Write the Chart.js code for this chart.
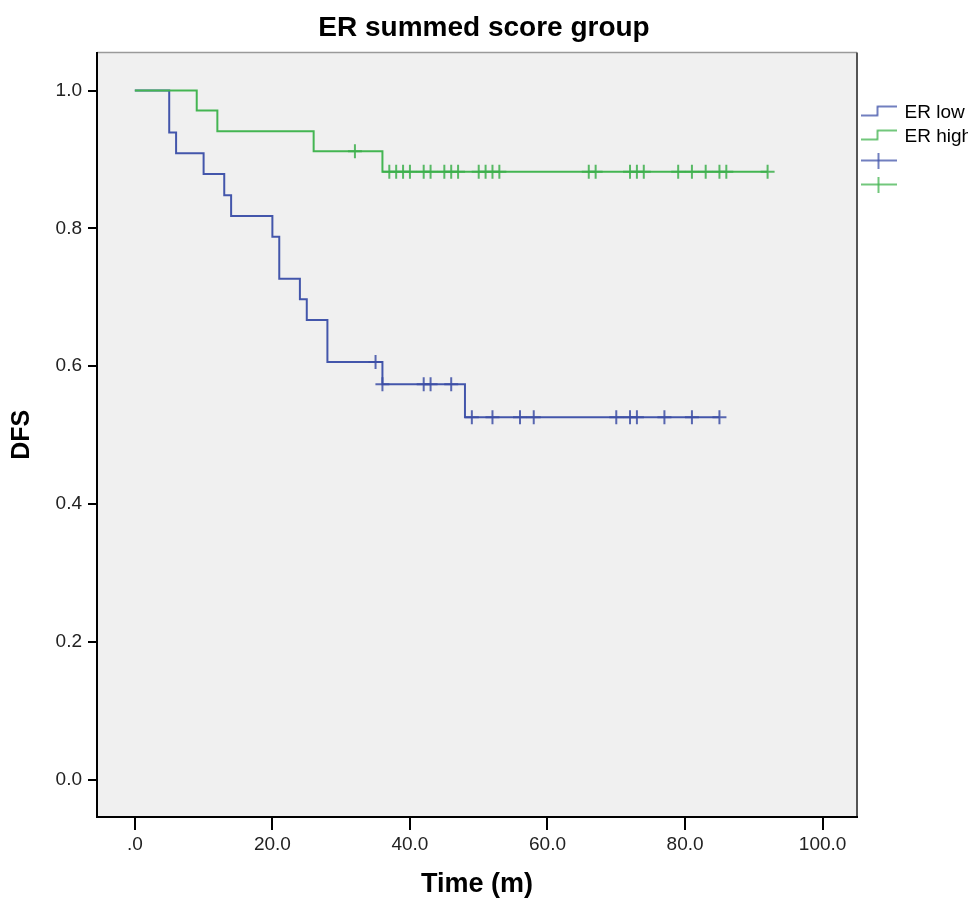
<!DOCTYPE html>
<html>
<head>
<meta charset="utf-8">
<script src="https://cdn.jsdelivr.net/npm/chart.js@4/dist/chart.umd.min.js"></script>
<style>
  body { margin: 0; background: #ffffff; }
  canvas { display: block; }
</style>
</head>
<body>
<canvas id="chart" width="970" height="901"></canvas>
<script>
// ER low: event times and survival after each step (last point = end of follow-up)
const lowTimes = [0, 5, 6, 10, 13, 14, 20, 21, 24, 25, 28, 36, 48, 85];
const lowSurvival = [1.0, 0.939, 0.909, 0.879, 0.848, 0.818, 0.788, 0.727, 0.697, 0.667, 0.606, 0.574, 0.526, 0.526];
const lowCensored = [35, 36, 42, 43, 46, 49, 52, 56, 58, 70, 72, 73, 77, 81, 85];

// ER high
const highTimes = [0, 9, 12, 26, 36, 92];
const highSurvival = [1.0, 0.971, 0.941, 0.912, 0.882, 0.882];
const highCensored = [32, 37, 38, 39, 40, 42, 43, 45, 46, 47, 50, 51, 52, 53, 66, 67, 72, 73, 74, 79, 81, 83, 85, 86, 92];

const xTicks = [0, 20, 40, 60, 80, 100];
const xTickLabels = ['.0', '20.0', '40.0', '60.0', '80.0', '100.0'];
const yTicks = [0, 0.2, 0.4, 0.6, 0.8, 1.0];
const yTickLabels = ['0.0', '0.2', '0.4', '0.6', '0.8', '1.0'];

const lowColor = '#4356ab';
const highColor = '#44b552';
const fontFamily = "'Liberation Sans', Arial, sans-serif";

// survival level of a step curve at time t (for placing censor marks)
const survivalAt = (times, survival, t) => {
    let s = survival[0];
    for (let i = 0; i < times.length; i++) {
        if (times[i] <= t) s = survival[i];
    }
    return s;
};

const curvePoints = (times, survival) => times.map((t, i) => ({ x: t, y: survival[i] }));
const censorPoints = (times, survival, censored) =>
    censored.map((t) => ({ x: t, y: survivalAt(times, survival, t) }));

// legend icons, drawn like SPSS does
const stepIcon = (color) => {
    const c = document.createElement('canvas');
    c.width = 36;
    c.height = 16;
    const ctx = c.getContext('2d');
    ctx.strokeStyle = color;
    ctx.lineWidth = 1.5;
    ctx.beginPath();
    ctx.moveTo(0, 11);
    ctx.lineTo(17, 11);
    ctx.lineTo(17, 2);
    ctx.lineTo(36, 2);
    ctx.stroke();
    return c;
};
const crossIcon = (color) => {
    const c = document.createElement('canvas');
    c.width = 36;
    c.height = 16;
    const ctx = c.getContext('2d');
    ctx.strokeStyle = color;
    ctx.lineWidth = 1.5;
    ctx.beginPath();
    ctx.moveTo(0, 8);
    ctx.lineTo(36, 8);
    ctx.moveTo(18, 0);
    ctx.lineTo(18, 16);
    ctx.stroke();
    return c;
};

const plotFrame = {
    id: 'plotFrame',
    beforeDraw: (chart) => {
        const { ctx, chartArea: a } = chart;
        ctx.save();
        ctx.fillStyle = '#f0f0f0';
        ctx.fillRect(a.left, a.top, a.width, a.height);
        ctx.strokeStyle = '#9a9a9a';
        ctx.lineWidth = 1.5;
        ctx.beginPath();
        ctx.moveTo(a.left, a.top);
        ctx.lineTo(a.right, a.top);
        ctx.stroke();
        ctx.strokeStyle = '#555555';
        ctx.lineWidth = 2;
        ctx.beginPath();
        ctx.moveTo(a.right, a.top);
        ctx.lineTo(a.right, a.bottom);
        ctx.stroke();
        ctx.restore();
    },
};

new Chart(document.getElementById('chart'), {
    type: 'line',
    data: {
        datasets: [
            {
                type: 'scatter',
                data: censorPoints(highTimes, highSurvival, highCensored),
                borderColor: 'rgba(60, 175, 75, 0.85)',
                pointStyle: 'cross',
                pointRadius: 7,
                borderWidth: 2,
                order: 0,
            },
            {
                type: 'scatter',
                data: censorPoints(lowTimes, lowSurvival, lowCensored),
                borderColor: 'rgba(60, 78, 165, 0.85)',
                pointStyle: 'cross',
                pointRadius: 7,
                borderWidth: 2,
                order: 1,
            },
            {
                data: curvePoints(highTimes, highSurvival),
                borderColor: highColor,
                borderWidth: 2,
                stepped: 'before',
                pointRadius: 0,
                fill: false,
                order: 2,
            },
            {
                data: curvePoints(lowTimes, lowSurvival),
                borderColor: lowColor,
                borderWidth: 2,
                stepped: 'before',
                pointRadius: 0,
                fill: false,
                order: 3,
            },
        ],
    },
    options: {
        responsive: false,
        animation: false,
        devicePixelRatio: 1,
        layout: { padding: { right: 2 } },
        scales: {
            x: {
                type: 'linear',
                position: 'bottom',
                min: -5.5,
                max: 105,
                afterBuildTicks: (scale) => {
                    scale.ticks = xTicks.map((v) => ({ value: v }));
                },
                afterFit: (scale) => {
                    scale.height = 84;
                },
                ticks: {
                    callback: (value, index) => xTickLabels[index],
                    font: { family: fontFamily, size: 19 },
                    color: '#222222',
                    padding: 3,
                    maxRotation: 0,
                    autoSkip: false,
                },
                grid: {
                    display: true,
                    drawOnChartArea: false,
                    drawTicks: true,
                    tickLength: 13,
                    color: '#000000',
                    lineWidth: 2,
                },
                border: { display: true, color: '#000000', width: 2 },
                title: {
                    display: true,
                    text: 'Time (m)',
                    font: { family: fontFamily, size: 27, weight: 'bold' },
                    color: '#000000',
                    padding: { top: 0, bottom: 0 },
                },
            },
            y: {
                type: 'linear',
                min: -0.054,
                max: 1.055,
                afterBuildTicks: (scale) => {
                    scale.ticks = yTicks.map((v) => ({ value: v }));
                },
                afterFit: (scale) => {
                    scale.width = 97;
                },
                ticks: {
                    callback: (value, index) => yTickLabels[index],
                    font: { family: fontFamily, size: 19 },
                    color: '#222222',
                    padding: 6,
                    autoSkip: false,
                },
                grid: {
                    display: true,
                    drawOnChartArea: false,
                    drawTicks: true,
                    tickLength: 9,
                    color: '#000000',
                    lineWidth: 2,
                },
                border: { display: true, color: '#000000', width: 2 },
                title: {
                    display: true,
                    text: 'DFS',
                    font: { family: fontFamily, size: 25, weight: 'bold' },
                    color: '#000000',
                    padding: { top: 7, bottom: 0 },
                },
            },
        },
        plugins: {
            title: {
                display: true,
                text: 'ER summed score group',
                font: { family: fontFamily, size: 28, weight: 'bold' },
                color: '#000000',
                padding: { top: 11, bottom: 8 },
            },
            legend: {
                display: true,
                position: 'right',
                align: 'start',
                maxWidth: 111,
                title: {
                    display: true,
                    text: '',
                    font: { size: 10 },
                    padding: { top: 86, bottom: 0 },
                },
                labels: {
                    usePointStyle: true,
                    pointStyleWidth: 33,
                    padding: 5,
                    color: '#000000',
                    font: { family: fontFamily, size: 19 },
                    generateLabels: () => [
                        { text: 'ER low', pointStyle: stepIcon(lowColor), fontColor: '#000000', lineWidth: 0, hidden: false, datasetIndex: 3 },
                        { text: 'ER high', pointStyle: stepIcon(highColor), fontColor: '#000000', lineWidth: 0, hidden: false, datasetIndex: 2 },
                        { text: '', pointStyle: crossIcon(lowColor), fontColor: '#000000', lineWidth: 0, hidden: false, datasetIndex: 1 },
                        { text: '', pointStyle: crossIcon(highColor), fontColor: '#000000', lineWidth: 0, hidden: false, datasetIndex: 0 },
                    ],
                },
            },
            tooltip: { enabled: false },
        },
    },
    plugins: [plotFrame],
});
</script>
</body>
</html>
